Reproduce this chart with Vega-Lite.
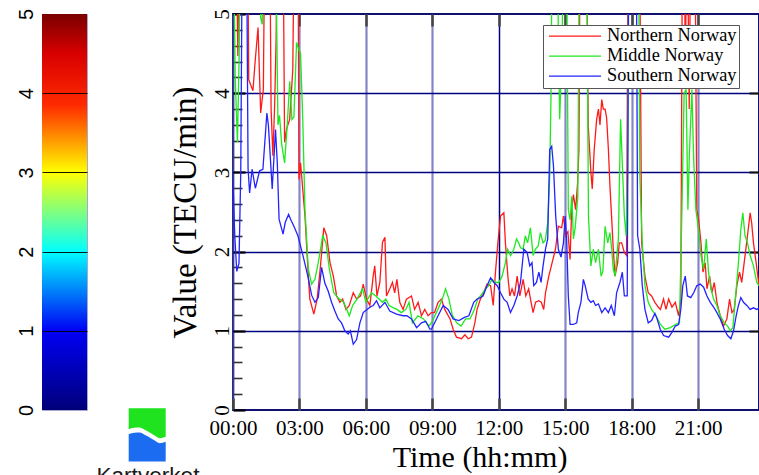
{
  "$schema": "https://vega.github.io/schema/vega-lite/v6.json",
  "background": "white",
  "padding": {"left": 15, "top": 7, "right": 0, "bottom": 0},
  "spacing": 0,
  "bounds": "flush",
  "config": {
    "axis": {"labelFont": "Liberation Serif", "titleFont": "Liberation Serif", "labelColor": "#000", "titleColor": "#000"},
    "legend": {"labelFont": "Liberation Serif", "labelColor": "#000"}
  },
  "datasets": {
    "tec": [
      {"region":"Northern Norway","hour":0,"value":6.5},{"region":"Northern Norway","hour":0.12,"value":6.5},{"region":"Northern Norway","hour":0.22,"value":4.47},{"region":"Northern Norway","hour":0.3,"value":6.5},{"region":"Northern Norway","hour":0.65,"value":6.5},{"region":"Northern Norway","hour":0.71,"value":4.17},{"region":"Northern Norway","hour":0.9,"value":4.03},{"region":"Northern Norway","hour":1.0,"value":4.4},{"region":"Northern Norway","hour":1.13,"value":4.83},{"region":"Northern Norway","hour":1.25,"value":3.75},{"region":"Northern Norway","hour":1.37,"value":4.05},{"region":"Northern Norway","hour":1.45,"value":6.5},{"region":"Northern Norway","hour":1.65,"value":6.5},{"region":"Northern Norway","hour":1.72,"value":3.8},{"region":"Northern Norway","hour":1.8,"value":3.21},{"region":"Northern Norway","hour":1.88,"value":3.84},{"region":"Northern Norway","hour":1.95,"value":4.72},{"region":"Northern Norway","hour":2.0,"value":6.5},{"region":"Northern Norway","hour":2.25,"value":6.5},{"region":"Northern Norway","hour":2.33,"value":3.38},{"region":"Northern Norway","hour":2.42,"value":3.55},{"region":"Northern Norway","hour":2.56,"value":3.67},{"region":"Northern Norway","hour":2.7,"value":4.3},{"region":"Northern Norway","hour":2.78,"value":6.5},{"region":"Northern Norway","hour":2.93,"value":6.5},{"region":"Northern Norway","hour":2.98,"value":2.91},{"region":"Northern Norway","hour":3.05,"value":3.12},{"region":"Northern Norway","hour":3.25,"value":2.45},{"region":"Northern Norway","hour":3.4,"value":1.69},{"region":"Northern Norway","hour":3.47,"value":1.4},{"region":"Northern Norway","hour":3.65,"value":1.21},{"region":"Northern Norway","hour":3.8,"value":1.4},{"region":"Northern Norway","hour":3.95,"value":1.82},{"region":"Northern Norway","hour":4.1,"value":2.3},{"region":"Northern Norway","hour":4.23,"value":2.2},{"region":"Northern Norway","hour":4.38,"value":1.86},{"region":"Northern Norway","hour":4.53,"value":1.69},{"region":"Northern Norway","hour":4.68,"value":1.44},{"region":"Northern Norway","hour":4.83,"value":1.36},{"region":"Northern Norway","hour":4.95,"value":1.4},{"region":"Northern Norway","hour":5.1,"value":1.27},{"region":"Northern Norway","hour":5.25,"value":1.32},{"region":"Northern Norway","hour":5.43,"value":1.48},{"region":"Northern Norway","hour":5.58,"value":1.4},{"region":"Northern Norway","hour":5.76,"value":1.44},{"region":"Northern Norway","hour":5.88,"value":1.59},{"region":"Northern Norway","hour":6.03,"value":1.4},{"region":"Northern Norway","hour":6.18,"value":1.32},{"region":"Northern Norway","hour":6.33,"value":1.69},{"region":"Northern Norway","hour":6.4,"value":1.82},{"region":"Northern Norway","hour":6.5,"value":1.44},{"region":"Northern Norway","hour":6.63,"value":1.61},{"region":"Northern Norway","hour":6.75,"value":2.12},{"region":"Northern Norway","hour":6.86,"value":2.18},{"region":"Northern Norway","hour":6.93,"value":1.44},{"region":"Northern Norway","hour":7.08,"value":1.53},{"region":"Northern Norway","hour":7.2,"value":1.61},{"region":"Northern Norway","hour":7.3,"value":1.48},{"region":"Northern Norway","hour":7.4,"value":1.65},{"region":"Northern Norway","hour":7.53,"value":1.36},{"region":"Northern Norway","hour":7.68,"value":1.27},{"region":"Northern Norway","hour":7.83,"value":1.4},{"region":"Northern Norway","hour":8.06,"value":1.44},{"region":"Northern Norway","hour":8.2,"value":1.27},{"region":"Northern Norway","hour":8.36,"value":1.36},{"region":"Northern Norway","hour":8.51,"value":1.19},{"region":"Northern Norway","hour":8.66,"value":1.27},{"region":"Northern Norway","hour":8.81,"value":1.19},{"region":"Northern Norway","hour":8.96,"value":1.23},{"region":"Northern Norway","hour":9.1,"value":1.23},{"region":"Northern Norway","hour":9.26,"value":1.36},{"region":"Northern Norway","hour":9.41,"value":1.4},{"region":"Northern Norway","hour":9.56,"value":1.27},{"region":"Northern Norway","hour":9.8,"value":1.15},{"region":"Northern Norway","hour":9.94,"value":1.02},{"region":"Northern Norway","hour":10.09,"value":0.92},{"region":"Northern Norway","hour":10.32,"value":0.9},{"region":"Northern Norway","hour":10.47,"value":0.95},{"region":"Northern Norway","hour":10.62,"value":0.9},{"region":"Northern Norway","hour":10.77,"value":0.92},{"region":"Northern Norway","hour":10.92,"value":1.1},{"region":"Northern Norway","hour":11.02,"value":1.27},{"region":"Northern Norway","hour":11.17,"value":1.4},{"region":"Northern Norway","hour":11.32,"value":1.48},{"region":"Northern Norway","hour":11.47,"value":1.59},{"region":"Northern Norway","hour":11.63,"value":1.57},{"region":"Northern Norway","hour":11.75,"value":1.32},{"region":"Northern Norway","hour":11.85,"value":1.74},{"region":"Northern Norway","hour":11.96,"value":2.11},{"region":"Northern Norway","hour":12.08,"value":2.45},{"region":"Northern Norway","hour":12.23,"value":2.49},{"region":"Northern Norway","hour":12.3,"value":2.11},{"region":"Northern Norway","hour":12.41,"value":1.69},{"region":"Northern Norway","hour":12.5,"value":1.44},{"region":"Northern Norway","hour":12.6,"value":1.53},{"region":"Northern Norway","hour":12.71,"value":1.44},{"region":"Northern Norway","hour":12.83,"value":1.69},{"region":"Northern Norway","hour":12.95,"value":1.44},{"region":"Northern Norway","hour":13.1,"value":1.65},{"region":"Northern Norway","hour":13.22,"value":1.44},{"region":"Northern Norway","hour":13.35,"value":1.53},{"region":"Northern Norway","hour":13.46,"value":1.36},{"region":"Northern Norway","hour":13.55,"value":1.23},{"region":"Northern Norway","hour":13.66,"value":1.36},{"region":"Northern Norway","hour":13.81,"value":1.38},{"region":"Northern Norway","hour":13.92,"value":1.36},{"region":"Northern Norway","hour":14.03,"value":1.27},{"region":"Northern Norway","hour":14.11,"value":1.48},{"region":"Northern Norway","hour":14.26,"value":1.69},{"region":"Northern Norway","hour":14.41,"value":1.86},{"region":"Northern Norway","hour":14.56,"value":2.03},{"region":"Northern Norway","hour":14.69,"value":2.32},{"region":"Northern Norway","hour":14.84,"value":2.3},{"region":"Northern Norway","hour":14.92,"value":2.45},{"region":"Northern Norway","hour":15.02,"value":2.2},{"region":"Northern Norway","hour":15.12,"value":2.25},{"region":"Northern Norway","hour":15.22,"value":1.9},{"region":"Northern Norway","hour":15.29,"value":2.53},{"region":"Northern Norway","hour":15.37,"value":2.72},{"region":"Northern Norway","hour":15.47,"value":2.53},{"region":"Northern Norway","hour":15.56,"value":2.87},{"region":"Northern Norway","hour":15.62,"value":3.3},{"region":"Northern Norway","hour":15.68,"value":6.5},{"region":"Northern Norway","hour":15.95,"value":6.5},{"region":"Northern Norway","hour":16.04,"value":3.59},{"region":"Northern Norway","hour":16.16,"value":3.0},{"region":"Northern Norway","hour":16.22,"value":2.79},{"region":"Northern Norway","hour":16.31,"value":3.29},{"region":"Northern Norway","hour":16.42,"value":3.67},{"region":"Northern Norway","hour":16.5,"value":3.8},{"region":"Northern Norway","hour":16.57,"value":3.6},{"region":"Northern Norway","hour":16.65,"value":3.92},{"region":"Northern Norway","hour":16.72,"value":3.8},{"region":"Northern Norway","hour":16.8,"value":3.8},{"region":"Northern Norway","hour":16.87,"value":3.69},{"region":"Northern Norway","hour":16.95,"value":3.29},{"region":"Northern Norway","hour":17.02,"value":2.83},{"region":"Northern Norway","hour":17.1,"value":2.41},{"region":"Northern Norway","hour":17.17,"value":2.03},{"region":"Northern Norway","hour":17.25,"value":1.69},{"region":"Northern Norway","hour":17.37,"value":1.86},{"region":"Northern Norway","hour":17.44,"value":2.11},{"region":"Northern Norway","hour":17.55,"value":2.11},{"region":"Northern Norway","hour":17.67,"value":1.99},{"region":"Northern Norway","hour":17.77,"value":1.95},{"region":"Northern Norway","hour":17.85,"value":6.5},{"region":"Northern Norway","hour":18.35,"value":6.5},{"region":"Northern Norway","hour":18.45,"value":2.11},{"region":"Northern Norway","hour":18.6,"value":1.69},{"region":"Northern Norway","hour":18.75,"value":1.48},{"region":"Northern Norway","hour":18.9,"value":1.44},{"region":"Northern Norway","hour":19.05,"value":1.36},{"region":"Northern Norway","hour":19.2,"value":1.3},{"region":"Northern Norway","hour":19.3,"value":1.27},{"region":"Northern Norway","hour":19.44,"value":1.4},{"region":"Northern Norway","hour":19.55,"value":1.27},{"region":"Northern Norway","hour":19.67,"value":1.4},{"region":"Northern Norway","hour":19.82,"value":1.3},{"region":"Northern Norway","hour":19.97,"value":1.36},{"region":"Northern Norway","hour":20.12,"value":1.19},{"region":"Northern Norway","hour":20.22,"value":1.4},{"region":"Northern Norway","hour":20.3,"value":6.5},{"region":"Northern Norway","hour":20.38,"value":6.5},{"region":"Northern Norway","hour":20.42,"value":4.1},{"region":"Northern Norway","hour":20.5,"value":6.5},{"region":"Northern Norway","hour":20.6,"value":3.8},{"region":"Northern Norway","hour":20.68,"value":6.5},{"region":"Northern Norway","hour":20.85,"value":6.5},{"region":"Northern Norway","hour":20.94,"value":2.53},{"region":"Northern Norway","hour":21.02,"value":2.41},{"region":"Northern Norway","hour":21.13,"value":2.11},{"region":"Northern Norway","hour":21.22,"value":1.74},{"region":"Northern Norway","hour":21.32,"value":1.86},{"region":"Northern Norway","hour":21.4,"value":1.53},{"region":"Northern Norway","hour":21.52,"value":1.69},{"region":"Northern Norway","hour":21.62,"value":1.48},{"region":"Northern Norway","hour":21.73,"value":1.61},{"region":"Northern Norway","hour":21.85,"value":1.36},{"region":"Northern Norway","hour":22.0,"value":1.19},{"region":"Northern Norway","hour":22.15,"value":1.06},{"region":"Northern Norway","hour":22.3,"value":1.15},{"region":"Northern Norway","hour":22.42,"value":1.4},{"region":"Northern Norway","hour":22.53,"value":1.23},{"region":"Northern Norway","hour":22.63,"value":1.27},{"region":"Northern Norway","hour":22.75,"value":1.57},{"region":"Northern Norway","hour":22.87,"value":1.74},{"region":"Northern Norway","hour":22.97,"value":1.61},{"region":"Northern Norway","hour":23.12,"value":1.95},{"region":"Northern Norway","hour":23.23,"value":2.2},{"region":"Northern Norway","hour":23.35,"value":2.49},{"region":"Northern Norway","hour":23.42,"value":2.36},{"region":"Northern Norway","hour":23.5,"value":2.11},{"region":"Northern Norway","hour":23.62,"value":1.86},{"region":"Northern Norway","hour":23.75,"value":1.57},
      {"region":"Middle Norway","hour":0,"value":6.5},{"region":"Middle Norway","hour":0.1,"value":4.2},{"region":"Middle Norway","hour":0.2,"value":3.38},{"region":"Middle Norway","hour":0.28,"value":4.5},{"region":"Middle Norway","hour":0.35,"value":6.5},{"region":"Middle Norway","hour":1.2,"value":6.5},{"region":"Middle Norway","hour":1.25,"value":4.95},{"region":"Middle Norway","hour":1.32,"value":4.87},{"region":"Middle Norway","hour":1.4,"value":6.5},{"region":"Middle Norway","hour":1.9,"value":6.5},{"region":"Middle Norway","hour":2.03,"value":3.6},{"region":"Middle Norway","hour":2.1,"value":3.72},{"region":"Middle Norway","hour":2.2,"value":3.35},{"region":"Middle Norway","hour":2.33,"value":3.12},{"region":"Middle Norway","hour":2.45,"value":3.6},{"region":"Middle Norway","hour":2.56,"value":4.15},{"region":"Middle Norway","hour":2.66,"value":3.67},{"region":"Middle Norway","hour":2.75,"value":3.7},{"region":"Middle Norway","hour":2.87,"value":4.64},{"region":"Middle Norway","hour":2.97,"value":4.55},{"region":"Middle Norway","hour":3.05,"value":4.5},{"region":"Middle Norway","hour":3.15,"value":3.67},{"region":"Middle Norway","hour":3.25,"value":2.53},{"region":"Middle Norway","hour":3.4,"value":1.78},{"region":"Middle Norway","hour":3.55,"value":1.59},{"region":"Middle Norway","hour":3.7,"value":1.65},{"region":"Middle Norway","hour":3.85,"value":1.86},{"region":"Middle Norway","hour":4.05,"value":2.2},{"region":"Middle Norway","hour":4.2,"value":2.11},{"region":"Middle Norway","hour":4.35,"value":1.78},{"region":"Middle Norway","hour":4.55,"value":1.48},{"region":"Middle Norway","hour":4.8,"value":1.4},{"region":"Middle Norway","hour":5.0,"value":1.36},{"region":"Middle Norway","hour":5.25,"value":1.19},{"region":"Middle Norway","hour":5.4,"value":1.32},{"region":"Middle Norway","hour":5.6,"value":1.4},{"region":"Middle Norway","hour":5.85,"value":1.53},{"region":"Middle Norway","hour":6.0,"value":1.36},{"region":"Middle Norway","hour":6.25,"value":1.48},{"region":"Middle Norway","hour":6.45,"value":1.44},{"region":"Middle Norway","hour":6.75,"value":1.36},{"region":"Middle Norway","hour":6.9,"value":1.4},{"region":"Middle Norway","hour":7.05,"value":1.32},{"region":"Middle Norway","hour":7.25,"value":1.29},{"region":"Middle Norway","hour":7.4,"value":1.27},{"region":"Middle Norway","hour":7.6,"value":1.23},{"region":"Middle Norway","hour":7.8,"value":1.27},{"region":"Middle Norway","hour":7.95,"value":1.36},{"region":"Middle Norway","hour":8.1,"value":1.1},{"region":"Middle Norway","hour":8.35,"value":1.19},{"region":"Middle Norway","hour":8.6,"value":1.15},{"region":"Middle Norway","hour":8.85,"value":1.06},{"region":"Middle Norway","hour":9.0,"value":1.12},{"region":"Middle Norway","hour":9.25,"value":1.27},{"region":"Middle Norway","hour":9.45,"value":1.4},{"region":"Middle Norway","hour":9.6,"value":1.53},{"region":"Middle Norway","hour":9.75,"value":1.4},{"region":"Middle Norway","hour":9.9,"value":1.2},{"region":"Middle Norway","hour":10.1,"value":1.1},{"region":"Middle Norway","hour":10.3,"value":1.06},{"region":"Middle Norway","hour":10.5,"value":1.15},{"region":"Middle Norway","hour":10.7,"value":1.15},{"region":"Middle Norway","hour":10.9,"value":1.27},{"region":"Middle Norway","hour":11.05,"value":1.4},{"region":"Middle Norway","hour":11.2,"value":1.45},{"region":"Middle Norway","hour":11.4,"value":1.53},{"region":"Middle Norway","hour":11.55,"value":1.57},{"region":"Middle Norway","hour":11.7,"value":1.65},{"region":"Middle Norway","hour":11.85,"value":1.61},{"region":"Middle Norway","hour":12.0,"value":1.61},{"region":"Middle Norway","hour":12.15,"value":1.69},{"region":"Middle Norway","hour":12.3,"value":1.86},{"region":"Middle Norway","hour":12.4,"value":2.03},{"region":"Middle Norway","hour":12.53,"value":1.95},{"region":"Middle Norway","hour":12.68,"value":2.03},{"region":"Middle Norway","hour":12.8,"value":2.16},{"region":"Middle Norway","hour":12.9,"value":2.11},{"region":"Middle Norway","hour":12.98,"value":2.05},{"region":"Middle Norway","hour":13.1,"value":2.03},{"region":"Middle Norway","hour":13.2,"value":2.2},{"region":"Middle Norway","hour":13.3,"value":2.11},{"region":"Middle Norway","hour":13.43,"value":2.3},{"region":"Middle Norway","hour":13.55,"value":1.95},{"region":"Middle Norway","hour":13.65,"value":2.03},{"region":"Middle Norway","hour":13.78,"value":2.07},{"region":"Middle Norway","hour":13.88,"value":2.24},{"region":"Middle Norway","hour":14.0,"value":2.11},{"region":"Middle Norway","hour":14.1,"value":2.14},{"region":"Middle Norway","hour":14.21,"value":2.37},{"region":"Middle Norway","hour":14.3,"value":2.95},{"region":"Middle Norway","hour":14.36,"value":4.0},{"region":"Middle Norway","hour":14.42,"value":6.5},{"region":"Middle Norway","hour":14.6,"value":6.5},{"region":"Middle Norway","hour":14.75,"value":3.67},{"region":"Middle Norway","hour":14.85,"value":4.5},{"region":"Middle Norway","hour":14.95,"value":6.5},{"region":"Middle Norway","hour":15.05,"value":6.5},{"region":"Middle Norway","hour":15.14,"value":2.53},{"region":"Middle Norway","hour":15.22,"value":2.4},{"region":"Middle Norway","hour":15.3,"value":2.7},{"region":"Middle Norway","hour":15.37,"value":2.16},{"region":"Middle Norway","hour":15.45,"value":2.3},{"region":"Middle Norway","hour":15.57,"value":2.7},{"region":"Middle Norway","hour":15.65,"value":6.5},{"region":"Middle Norway","hour":15.95,"value":6.5},{"region":"Middle Norway","hour":16.05,"value":2.45},{"region":"Middle Norway","hour":16.16,"value":1.82},{"region":"Middle Norway","hour":16.27,"value":2.03},{"region":"Middle Norway","hour":16.37,"value":1.86},{"region":"Middle Norway","hour":16.5,"value":2.03},{"region":"Middle Norway","hour":16.62,"value":1.69},{"region":"Middle Norway","hour":16.7,"value":1.75},{"region":"Middle Norway","hour":16.8,"value":2.32},{"region":"Middle Norway","hour":16.92,"value":2.11},{"region":"Middle Norway","hour":17.02,"value":2.24},{"region":"Middle Norway","hour":17.1,"value":2.03},{"region":"Middle Norway","hour":17.17,"value":1.78},{"region":"Middle Norway","hour":17.25,"value":1.69},{"region":"Middle Norway","hour":17.4,"value":2.16},{"region":"Middle Norway","hour":17.5,"value":3.67},{"region":"Middle Norway","hour":17.58,"value":3.1},{"region":"Middle Norway","hour":17.67,"value":2.45},{"region":"Middle Norway","hour":17.75,"value":2.2},{"region":"Middle Norway","hour":17.82,"value":3.0},{"region":"Middle Norway","hour":17.88,"value":6.5},{"region":"Middle Norway","hour":18.3,"value":6.5},{"region":"Middle Norway","hour":18.37,"value":2.95},{"region":"Middle Norway","hour":18.48,"value":2.11},{"region":"Middle Norway","hour":18.6,"value":1.57},{"region":"Middle Norway","hour":18.75,"value":1.36},{"region":"Middle Norway","hour":18.9,"value":1.27},{"region":"Middle Norway","hour":19.1,"value":1.19},{"region":"Middle Norway","hour":19.3,"value":1.08},{"region":"Middle Norway","hour":19.5,"value":1.02},{"region":"Middle Norway","hour":19.75,"value":1.04},{"region":"Middle Norway","hour":19.97,"value":1.08},{"region":"Middle Norway","hour":20.16,"value":1.1},{"region":"Middle Norway","hour":20.27,"value":2.53},{"region":"Middle Norway","hour":20.37,"value":4.0},{"region":"Middle Norway","hour":20.46,"value":4.05},{"region":"Middle Norway","hour":20.54,"value":2.53},{"region":"Middle Norway","hour":20.61,"value":3.25},{"region":"Middle Norway","hour":20.72,"value":4.05},{"region":"Middle Norway","hour":20.8,"value":3.17},{"region":"Middle Norway","hour":20.9,"value":2.53},{"region":"Middle Norway","hour":21.02,"value":2.28},{"region":"Middle Norway","hour":21.13,"value":1.95},{"region":"Middle Norway","hour":21.25,"value":1.78},{"region":"Middle Norway","hour":21.37,"value":2.16},{"region":"Middle Norway","hour":21.47,"value":1.74},{"region":"Middle Norway","hour":21.58,"value":1.53},{"region":"Middle Norway","hour":21.7,"value":1.4},{"region":"Middle Norway","hour":21.85,"value":1.32},{"region":"Middle Norway","hour":22.0,"value":1.19},{"region":"Middle Norway","hour":22.18,"value":1.1},{"region":"Middle Norway","hour":22.33,"value":1.06},{"region":"Middle Norway","hour":22.45,"value":1.0},{"region":"Middle Norway","hour":22.57,"value":1.04},{"region":"Middle Norway","hour":22.67,"value":1.36},{"region":"Middle Norway","hour":22.82,"value":1.86},{"region":"Middle Norway","hour":22.93,"value":2.28},{"region":"Middle Norway","hour":23.02,"value":2.49},{"region":"Middle Norway","hour":23.12,"value":2.2},{"region":"Middle Norway","hour":23.23,"value":2.11},{"region":"Middle Norway","hour":23.35,"value":1.95},{"region":"Middle Norway","hour":23.5,"value":1.82},{"region":"Middle Norway","hour":23.65,"value":1.61},{"region":"Middle Norway","hour":23.75,"value":1.57},
      {"region":"Southern Norway","hour":0,"value":2.9},{"region":"Southern Norway","hour":0.08,"value":2.2},{"region":"Southern Norway","hour":0.17,"value":1.75},{"region":"Southern Norway","hour":0.27,"value":1.85},{"region":"Southern Norway","hour":0.35,"value":3.0},{"region":"Southern Norway","hour":0.43,"value":6.5},{"region":"Southern Norway","hour":0.6,"value":6.5},{"region":"Southern Norway","hour":0.68,"value":3.05},{"region":"Southern Norway","hour":0.75,"value":2.74},{"region":"Southern Norway","hour":0.86,"value":3.04},{"region":"Southern Norway","hour":1.01,"value":2.8},{"region":"Southern Norway","hour":1.2,"value":3.02},{"region":"Southern Norway","hour":1.35,"value":3.04},{"region":"Southern Norway","hour":1.53,"value":3.75},{"region":"Southern Norway","hour":1.6,"value":3.59},{"region":"Southern Norway","hour":1.77,"value":2.79},{"region":"Southern Norway","hour":1.92,"value":3.54},{"region":"Southern Norway","hour":2.0,"value":3.12},{"region":"Southern Norway","hour":2.08,"value":2.41},{"region":"Southern Norway","hour":2.26,"value":2.22},{"region":"Southern Norway","hour":2.36,"value":2.37},{"region":"Southern Norway","hour":2.51,"value":2.47},{"region":"Southern Norway","hour":2.63,"value":2.39},{"region":"Southern Norway","hour":2.75,"value":2.32},{"region":"Southern Norway","hour":2.93,"value":2.2},{"region":"Southern Norway","hour":3.16,"value":1.95},{"region":"Southern Norway","hour":3.38,"value":1.69},{"region":"Southern Norway","hour":3.55,"value":1.45},{"region":"Southern Norway","hour":3.7,"value":1.36},{"region":"Southern Norway","hour":3.85,"value":1.42},{"region":"Southern Norway","hour":4.0,"value":1.8},{"region":"Southern Norway","hour":4.15,"value":1.6},{"region":"Southern Norway","hour":4.3,"value":1.5},{"region":"Southern Norway","hour":4.45,"value":1.36},{"region":"Southern Norway","hour":4.6,"value":1.25},{"region":"Southern Norway","hour":4.75,"value":1.15},{"region":"Southern Norway","hour":4.9,"value":1.1},{"region":"Southern Norway","hour":5.05,"value":1.0},{"region":"Southern Norway","hour":5.2,"value":0.96},{"region":"Southern Norway","hour":5.3,"value":1.0},{"region":"Southern Norway","hour":5.43,"value":0.83},{"region":"Southern Norway","hour":5.58,"value":0.89},{"region":"Southern Norway","hour":5.73,"value":1.1},{"region":"Southern Norway","hour":5.88,"value":1.23},{"region":"Southern Norway","hour":6.05,"value":1.27},{"region":"Southern Norway","hour":6.2,"value":1.3},{"region":"Southern Norway","hour":6.33,"value":1.32},{"region":"Southern Norway","hour":6.48,"value":1.38},{"region":"Southern Norway","hour":6.63,"value":1.29},{"region":"Southern Norway","hour":6.86,"value":1.36},{"region":"Southern Norway","hour":7.08,"value":1.25},{"region":"Southern Norway","hour":7.38,"value":1.21},{"region":"Southern Norway","hour":7.68,"value":1.19},{"region":"Southern Norway","hour":7.85,"value":1.19},{"region":"Southern Norway","hour":8.06,"value":1.15},{"region":"Southern Norway","hour":8.29,"value":1.04},{"region":"Southern Norway","hour":8.51,"value":1.1},{"region":"Southern Norway","hour":8.7,"value":1.12},{"region":"Southern Norway","hour":8.89,"value":1.02},{"region":"Southern Norway","hour":8.96,"value":1.02},{"region":"Southern Norway","hour":9.26,"value":1.19},{"region":"Southern Norway","hour":9.49,"value":1.32},{"region":"Southern Norway","hour":9.71,"value":1.27},{"region":"Southern Norway","hour":9.94,"value":1.15},{"region":"Southern Norway","hour":10.2,"value":1.13},{"region":"Southern Norway","hour":10.45,"value":1.17},{"region":"Southern Norway","hour":10.65,"value":1.19},{"region":"Southern Norway","hour":10.87,"value":1.36},{"region":"Southern Norway","hour":11.02,"value":1.4},{"region":"Southern Norway","hour":11.17,"value":1.42},{"region":"Southern Norway","hour":11.29,"value":1.44},{"region":"Southern Norway","hour":11.47,"value":1.57},{"region":"Southern Norway","hour":11.63,"value":1.67},{"region":"Southern Norway","hour":11.78,"value":1.61},{"region":"Southern Norway","hour":11.93,"value":1.57},{"region":"Southern Norway","hour":12.08,"value":1.48},{"region":"Southern Norway","hour":12.23,"value":1.4},{"region":"Southern Norway","hour":12.38,"value":1.36},{"region":"Southern Norway","hour":12.53,"value":1.23},{"region":"Southern Norway","hour":12.68,"value":1.32},{"region":"Southern Norway","hour":12.83,"value":1.44},{"region":"Southern Norway","hour":12.98,"value":1.61},{"region":"Southern Norway","hour":13.13,"value":2.03},{"region":"Southern Norway","hour":13.28,"value":1.99},{"region":"Southern Norway","hour":13.4,"value":1.82},{"region":"Southern Norway","hour":13.5,"value":1.86},{"region":"Southern Norway","hour":13.58,"value":1.57},{"region":"Southern Norway","hour":13.7,"value":1.61},{"region":"Southern Norway","hour":13.81,"value":1.74},{"region":"Southern Norway","hour":13.91,"value":1.61},{"region":"Southern Norway","hour":14.0,"value":1.82},{"region":"Southern Norway","hour":14.11,"value":2.03},{"region":"Southern Norway","hour":14.21,"value":2.16},{"region":"Southern Norway","hour":14.3,"value":3.29},{"region":"Southern Norway","hour":14.39,"value":3.33},{"region":"Southern Norway","hour":14.47,"value":3.08},{"region":"Southern Norway","hour":14.57,"value":2.45},{"region":"Southern Norway","hour":14.69,"value":2.03},{"region":"Southern Norway","hour":14.81,"value":1.93},{"region":"Southern Norway","hour":14.92,"value":2.11},{"region":"Southern Norway","hour":15.0,"value":2.45},{"region":"Southern Norway","hour":15.07,"value":2.11},{"region":"Southern Norway","hour":15.14,"value":1.44},{"region":"Southern Norway","hour":15.22,"value":1.08},{"region":"Southern Norway","hour":15.37,"value":1.08},{"region":"Southern Norway","hour":15.52,"value":1.1},{"region":"Southern Norway","hour":15.59,"value":1.23},{"region":"Southern Norway","hour":15.71,"value":1.36},{"region":"Southern Norway","hour":15.82,"value":1.65},{"region":"Southern Norway","hour":15.9,"value":1.57},{"region":"Southern Norway","hour":16.04,"value":1.4},{"region":"Southern Norway","hour":16.16,"value":1.36},{"region":"Southern Norway","hour":16.27,"value":1.38},{"region":"Southern Norway","hour":16.37,"value":1.32},{"region":"Southern Norway","hour":16.5,"value":1.34},{"region":"Southern Norway","hour":16.65,"value":1.23},{"region":"Southern Norway","hour":16.8,"value":1.29},{"region":"Southern Norway","hour":16.95,"value":1.23},{"region":"Southern Norway","hour":17.08,"value":1.32},{"region":"Southern Norway","hour":17.22,"value":1.19},{"region":"Southern Norway","hour":17.32,"value":1.48},{"region":"Southern Norway","hour":17.47,"value":1.61},{"region":"Southern Norway","hour":17.58,"value":1.74},{"region":"Southern Norway","hour":17.67,"value":1.44},{"region":"Southern Norway","hour":17.8,"value":1.44},{"region":"Southern Norway","hour":17.88,"value":6.5},{"region":"Southern Norway","hour":18.2,"value":6.5},{"region":"Southern Norway","hour":18.27,"value":2.2},{"region":"Southern Norway","hour":18.37,"value":2.03},{"region":"Southern Norway","hour":18.48,"value":1.57},{"region":"Southern Norway","hour":18.6,"value":1.27},{"region":"Southern Norway","hour":18.75,"value":1.1},{"region":"Southern Norway","hour":18.9,"value":1.13},{"region":"Southern Norway","hour":19.05,"value":1.22},{"region":"Southern Norway","hour":19.15,"value":1.15},{"region":"Southern Norway","hour":19.29,"value":1.02},{"region":"Southern Norway","hour":19.44,"value":0.94},{"region":"Southern Norway","hour":19.67,"value":0.92},{"region":"Southern Norway","hour":19.82,"value":0.98},{"region":"Southern Norway","hour":19.97,"value":1.06},{"region":"Southern Norway","hour":20.12,"value":1.08},{"region":"Southern Norway","hour":20.22,"value":1.27},{"region":"Southern Norway","hour":20.31,"value":1.57},{"region":"Southern Norway","hour":20.42,"value":1.69},{"region":"Southern Norway","hour":20.52,"value":1.44},{"region":"Southern Norway","hour":20.67,"value":1.42},{"region":"Southern Norway","hour":20.8,"value":1.48},{"region":"Southern Norway","hour":20.94,"value":1.57},{"region":"Southern Norway","hour":21.1,"value":1.59},{"region":"Southern Norway","hour":21.25,"value":1.55},{"region":"Southern Norway","hour":21.4,"value":1.44},{"region":"Southern Norway","hour":21.55,"value":1.36},{"region":"Southern Norway","hour":21.7,"value":1.3},{"region":"Southern Norway","hour":21.85,"value":1.23},{"region":"Southern Norway","hour":22.0,"value":1.15},{"region":"Southern Norway","hour":22.18,"value":1.02},{"region":"Southern Norway","hour":22.33,"value":0.94},{"region":"Southern Norway","hour":22.48,"value":0.9},{"region":"Southern Norway","hour":22.6,"value":1.0},{"region":"Southern Norway","hour":22.72,"value":1.19},{"region":"Southern Norway","hour":22.82,"value":1.32},{"region":"Southern Norway","hour":22.93,"value":1.42},{"region":"Southern Norway","hour":23.05,"value":1.36},{"region":"Southern Norway","hour":23.2,"value":1.32},{"region":"Southern Norway","hour":23.35,"value":1.27},{"region":"Southern Norway","hour":23.5,"value":1.29},{"region":"Southern Norway","hour":23.65,"value":1.27},{"region":"Southern Norway","hour":23.75,"value":1.29}
    ]
  },
  "hconcat": [
    {
      "width": 45,
      "height": 396,
      "view": {"stroke": "#a8a8cc", "strokeWidth": 1},
      "data": {"values": [{"low": 0, "high": 5}]},
      "mark": {
        "type": "rect",
        "fill": {
          "gradient": "linear", "x1": 0, "y1": 1, "x2": 0, "y2": 0,
          "stops": [
            {"offset": 0, "color": "#00007a"},
            {"offset": 0.2, "color": "#0000f5"},
            {"offset": 0.4, "color": "#00ffff"},
            {"offset": 0.5, "color": "#80ff80"},
            {"offset": 0.6, "color": "#ffff00"},
            {"offset": 0.77, "color": "#ff2a00"},
            {"offset": 0.9, "color": "#d80000"},
            {"offset": 1, "color": "#7a0000"}
          ]
        }
      },
      "encoding": {
        "y": {
          "field": "low", "type": "quantitative",
          "scale": {"domain": [0, 5], "nice": false, "zero": false},
          "axis": {
            "orient": "left", "values": [0, 1, 2, 3, 4, 5], "title": null,
            "labelAngle": 270, "labelAlign": "center", "labelBaseline": "bottom",
            "labelFont": "Liberation Sans", "labelFontSize": 20, "labelPadding": 6,
            "ticks": false, "domain": false, "grid": true, "gridColor": "#000", "gridWidth": 1.2,
            "gridOpacity": {"condition": {"test": "datum.value > 0 && datum.value < 5", "value": 0.9}, "value": 0},
            "zindex": 1, "labelOverlap": false
          }
        },
        "y2": {"field": "high"}
      }
    },
    {
      "width": 146,
      "height": 460,
      "view": {"stroke": null},
      "layer": [
        {
          "data": {"values": [
            {"u": 0, "bottom": 0.607, "top": 1}, {"u": 0.15, "bottom": 0.632, "top": 1}, {"u": 0.297, "bottom": 0.639, "top": 1},
            {"u": 0.43, "bottom": 0.597, "top": 1}, {"u": 0.568, "bottom": 0.545, "top": 1}, {"u": 0.7, "bottom": 0.487, "top": 1},
            {"u": 0.838, "bottom": 0.438, "top": 1}, {"u": 1, "bottom": 0.464, "top": 1}
          ]},
          "mark": {"type": "area", "color": "#1ee31e", "interpolate": "monotone", "opacity": 1},
          "encoding": {
            "x": {"field": "u", "type": "quantitative", "scale": {"domain": [-1.127, 2.819], "nice": false, "zero": false}, "axis": null},
            "y": {"field": "bottom", "type": "quantitative", "scale": {"domain": [-0.235, 8.41], "nice": false, "zero": false}, "axis": null},
            "y2": {"field": "top"}
          }
        },
        {
          "data": {"values": [
            {"u": 0, "bottom": 0, "top": 0.513}, {"u": 0.15, "bottom": 0, "top": 0.538}, {"u": 0.297, "bottom": 0, "top": 0.545},
            {"u": 0.43, "bottom": 0, "top": 0.503}, {"u": 0.568, "bottom": 0, "top": 0.451}, {"u": 0.7, "bottom": 0, "top": 0.393},
            {"u": 0.838, "bottom": 0, "top": 0.344}, {"u": 1, "bottom": 0, "top": 0.37}
          ]},
          "mark": {"type": "area", "color": "#1c6cf2", "interpolate": "monotone", "opacity": 1},
          "encoding": {
            "x": {"field": "u", "type": "quantitative", "axis": null},
            "y": {"field": "bottom", "type": "quantitative", "axis": null},
            "y2": {"field": "top"}
          }
        },
        {
          "data": {"values": [{"u": 0.52, "y": -0.4, "name": "Kartverket"}]},
          "mark": {"type": "text", "font": "Liberation Sans", "fontSize": 22.6, "baseline": "alphabetic", "align": "center", "color": "#1a1a1a"},
          "encoding": {
            "x": {"field": "u", "type": "quantitative", "axis": null},
            "y": {"field": "y", "type": "quantitative", "axis": null},
            "text": {"field": "name"}
          }
        }
      ]
    },
    {
      "width": 526,
      "height": 396,
      "view": {"stroke": "#10106e", "strokeWidth": 2},
      "data": {"name": "tec"},
      "layer": [
        {
          "mark": {"type": "line", "clip": true, "strokeWidth": 1.3},
          "encoding": {
            "x": {
              "field": "hour", "type": "quantitative",
              "scale": {"domain": [0, 23.75], "nice": false, "zero": false},
              "axis": {
                "orient": "bottom", "values": [0, 3, 6, 9, 12, 15, 18, 21],
                "labelExpr": "(datum.value < 10 ? '0' : '') + datum.value + ':00'",
                "labelFontSize": 21, "labelPadding": 19, "labelBaseline": "top", "labelFlush": false, "labelOverlap": false,
                "tickSize": -12, "tickColor": "#444", "tickWidth": 2.5,
                "grid": true,
                "gridColor": {"condition": {"test": "datum.value == 12", "value": "#000080"}, "value": "#5050b0"},
                "gridWidth": {"condition": {"test": "datum.value == 12", "value": 1.5}, "value": 2.2},
                "gridOpacity": {"condition": {"test": "datum.value == 12", "value": 1}, "value": 0.7},
                "domain": false,
                "title": "Time (hh:mm)", "titleFontSize": 30, "titleFontWeight": "normal", "titlePadding": 4,
                "titleX": 246.5, "titleAlign": "center"
              }
            },
            "y": {
              "field": "value", "type": "quantitative",
              "scale": {"domain": [0, 5], "nice": false, "zero": false},
              "axis": {
                "orient": "left",
                "values": [0, 0.2, 0.4, 0.6, 0.8, 1, 1.2, 1.4, 1.6, 1.8, 2, 2.2, 2.4, 2.6, 2.8, 3, 3.2, 3.4, 3.6, 3.8, 4, 4.2, 4.4, 4.6, 4.8, 5],
                "labelExpr": "abs(datum.value - round(datum.value)) < 0.01 ? format(round(datum.value), 'd') : ''",
                "labelAngle": 270, "labelAlign": "center", "labelBaseline": "bottom",
                "labelFontSize": 21, "labelPadding": 13, "labelOverlap": false, "labelFlush": false,
                "tickSize": {"condition": {"test": "abs(datum.value - round(datum.value)) < 0.01", "value": -12}, "value": -9},
                "tickColor": {"condition": {"test": "abs(datum.value - round(datum.value)) < 0.01", "value": "#000"}, "value": "#333"},
                "tickWidth": {"condition": {"test": "abs(datum.value - round(datum.value)) < 0.01", "value": 2.2}, "value": 1.6},
                "grid": true, "gridColor": "#000080", "gridWidth": 1.5,
                "gridOpacity": {"condition": {"test": "abs(datum.value - round(datum.value)) < 0.01 && datum.value > 0.5 && datum.value < 4.5", "value": 1}, "value": 0},
                "domain": false,
                "title": "Value (TECU/min)", "titleFontSize": 33, "titleFontWeight": "normal", "titlePadding": 6
              }
            },
            "color": {
              "field": "region", "type": "nominal",
              "scale": {"domain": ["Northern Norway", "Middle Norway", "Southern Norway"], "range": ["#ff1a1a", "#1ee81e", "#2323ff"]},
              "legend": {
                "title": null, "orient": "none", "legendX": 501, "legendY": 11,
                "symbolType": "stroke", "symbolSize": 2704, "symbolStrokeWidth": 1.3, "symbolOffset": 3,
                "labelFontSize": 18.3, "labelOffset": 5, "padding": 2,
                "labelExpr": "datum.label + '\u00a0\u00a0\u00a0'",
                "fillColor": "white", "strokeColor": "#555", "clipHeight": 18.3, "rowPadding": 0
              }
            }
          }
        },
        {
          "mark": {"type": "point", "opacity": 0, "clip": true},
          "encoding": {
            "x": {
              "field": "hour", "type": "quantitative",
              "axis": {"orient": "top", "values": [3, 6, 9, 12, 15, 18, 21], "labels": false, "tickSize": -12, "tickColor": "#444", "tickWidth": 2.5, "grid": false, "domain": false, "title": null}
            },
            "y": {
              "field": "value", "type": "quantitative",
              "axis": {"orient": "right", "values": [1, 2, 3, 4], "labels": false, "tickSize": -10, "tickColor": "#111", "tickWidth": 2, "grid": false, "domain": false, "title": null}
            }
          }
        }
      ],
      "resolve": {"axis": {"x": "independent", "y": "independent"}}
    }
  ]
}
